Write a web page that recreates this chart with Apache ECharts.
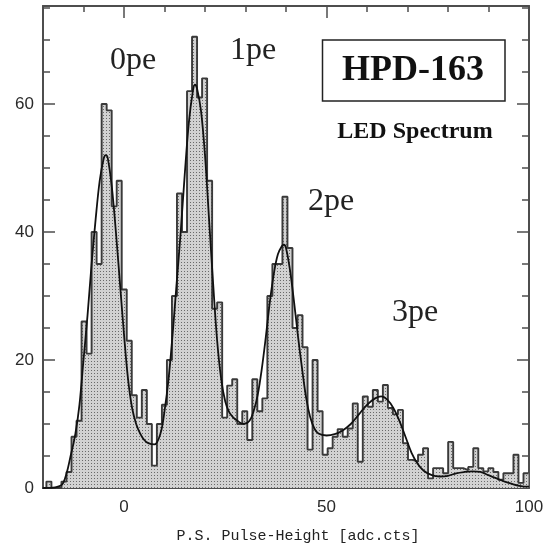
<!DOCTYPE html>
<html>
<head>
<meta charset="utf-8">
<script src="https://cdn.jsdelivr.net/npm/echarts@6.0.0/dist/echarts.min.js"></script>
<style>
  html, body { margin: 0; padding: 0; background: #fff; }
  #chart { width: 558px; height: 546px; }
</style>
</head>
<body>
<div id="chart"></div>
<script>
// histogram bins (left edge of first bin + width, in adc counts)
const binStart = -20.4;
const binWidth = 1.24;
const counts = [
  0, 1, 0, 0, 1, 2.5, 8, 10.5, 26, 21,
  40, 35, 60, 59, 44, 48, 31, 23, 14.5, 11,
  15.3, 10, 3.5, 10, 13, 20, 30, 46, 40, 62,
  70.5, 61, 64, 48, 28, 29, 11, 16, 17, 10,
  12, 7.5, 17, 12, 14, 30, 35, 35, 45.5, 37.5,
  25, 27, 22, 6, 20, 12, 5.2, 6.2, 8, 9.2,
  8, 9.3, 13.2, 4.1, 14.3, 12.7, 15.3, 13.5, 16.1, 12.5,
  11.5, 12.2, 7, 4.4, 4.1, 5.2, 6.2, 1.5, 3.1, 3.1,
  2.3, 7.2, 3.1, 3.1, 2.8, 3.3, 6.2, 3.1, 2.6, 3.1,
  2.5, 1.3, 2.3, 2.3, 5.2, 0.8, 2.3
];

// fitted curve
const fitX = [-20, -17, -15, -13, -12, -11, -10, -9, -8, -7, -6, -5, -4.5, -4, -3, -2, -1, 0, 1, 2, 3, 4, 5, 6, 7.5,
  9, 10, 11, 12, 13, 14, 15, 16, 17, 17.5, 18, 19, 20, 21, 22, 23, 24, 25, 26, 27, 28, 29.5,
  31, 32, 33, 34, 35, 36, 37, 38, 39, 39.5, 40, 41, 42, 43, 44, 45, 46, 47, 48, 50, 52, 54,
  56, 58, 60, 62, 63.5, 65, 66.5, 68, 69.5, 71, 72.5, 74, 76, 78, 80, 82, 84, 86, 88, 90, 92, 94, 96, 98, 100];
const fitY = [0, 0.1, 0.8, 5.5, 8.5, 13, 20, 27, 35, 42, 48, 51.5, 52, 51.5, 47, 40, 32, 24, 17, 12.5, 10, 8.5, 7.5, 7, 6.8,
  8.5, 12, 17, 24, 32, 40, 49, 57, 62, 63, 62.5, 59, 52, 42, 32, 23, 17, 13.5, 11.8, 11, 10.5, 10,
  10.5, 12, 14.5, 18.5, 23.5, 29, 33.5, 36.5, 37.8, 38, 37.5, 34, 29, 23.5, 18.5, 14, 11, 9.3, 8.5, 8.2, 8.4, 9,
  10, 11.5, 13, 14, 14.3, 13.8, 12.5, 10.5, 8, 5.5, 3.8, 2.7, 2, 1.8, 1.9, 2.3, 2.5, 2.6, 2.5, 2, 1.5, 1, 0.6, 0.3, 0.2];

const xLabelValues = [0, 50, 100];
const yLabelValues = [0, 20, 40, 60];
const peakNames = ['0pe', '1pe', '2pe', '3pe'];

// step outline: value of each bin holds from its left edge to the next edge
let stepData = counts.map(function (c, i) { return [binStart + i * binWidth, c]; });
stepData.push([binStart + counts.length * binWidth, counts[counts.length - 1]]);
let fitData = fitX.map(function (x, i) { return [x, fitY[i]]; });

// dotted grey fill like the print
let pat = document.createElement('canvas');
pat.width = 3; pat.height = 3;
let pctx = pat.getContext('2d');
pctx.fillStyle = '#d2d2d2';
pctx.fillRect(0, 0, 3, 3);
pctx.fillStyle = '#6a6a6a';
pctx.fillRect(1, 1, 1, 1);

const frame = '#4d4d4d';
const lblFont = { color: '#2a2a2a', fontSize: 17, fontFamily: 'Liberation Sans' };

function xAxisOf(pos, major) {
  return {
    type: 'value', min: -20, max: 100, interval: 10, position: pos,
    axisLine: { show: !major, onZero: false, lineStyle: { color: frame, width: 2 } },
    axisTick: major
      ? { show: true, inside: true, length: 12, customValues: xLabelValues, lineStyle: { color: frame, width: 1.5 } }
      : { show: true, inside: true, length: 6, lineStyle: { color: frame, width: 1.5 } },
    axisLabel: (major && pos === 'bottom')
      ? Object.assign({ show: true, margin: 11, customValues: xLabelValues }, lblFont)
      : { show: false },
    splitLine: { show: false }
  };
}

function yAxisOf(pos, major) {
  return {
    type: 'value', min: 0, max: 75.3, interval: 5, position: pos,
    axisLine: { show: !major, onZero: false, lineStyle: { color: frame, width: 2 } },
    axisTick: major
      ? { show: true, inside: true, length: 12, customValues: yLabelValues, lineStyle: { color: frame, width: 1.5 } }
      : { show: true, inside: true, length: 7, lineStyle: { color: frame, width: 1.5 } },
    axisLabel: (major && pos === 'left')
      ? Object.assign({ show: true, margin: 9, customValues: yLabelValues }, lblFont)
      : { show: false },
    splitLine: { show: false }
  };
}

let myChart = echarts.init(document.getElementById('chart'));
myChart.setOption({
  animation: false,
  backgroundColor: '#fff',
  grid: { left: 43, right: 29, top: 6, bottom: 58, containLabel: false, outerBoundsMode: 'none' },
  xAxis: [xAxisOf('bottom', false), xAxisOf('bottom', true), xAxisOf('top', false), xAxisOf('top', true)],
  yAxis: [yAxisOf('left', false), yAxisOf('left', true), yAxisOf('right', false), yAxisOf('right', true)],
  series: [
    {
      name: 'histogram',
      type: 'line',
      step: 'end',
      data: stepData,
      symbol: 'none',
      clip: true,
      lineStyle: { color: '#3a3a3a', width: 1.9 },
      areaStyle: { color: { image: pat, repeat: 'repeat' }, opacity: 1 },
      z: 2
    },
    {
      name: 'fit',
      type: 'line',
      smooth: 0.35,
      data: fitData,
      symbol: 'none',
      clip: true,
      lineStyle: { color: '#111', width: 1.8 },
      z: 3
    }
  ],
  graphic: [
    { type: 'text', x: 110, y: 61, style: { text: peakNames[0], fill: '#222', font: '32px "Liberation Serif"', verticalAlign: 'middle' } },
    { type: 'text', x: 230, y: 51, style: { text: peakNames[1], fill: '#222', font: '32px "Liberation Serif"', verticalAlign: 'middle' } },
    { type: 'text', x: 308, y: 202, style: { text: peakNames[2], fill: '#222', font: '32px "Liberation Serif"', verticalAlign: 'middle' } },
    { type: 'text', x: 392, y: 313, style: { text: peakNames[3], fill: '#222', font: '32px "Liberation Serif"', verticalAlign: 'middle' } },
    { type: 'rect', shape: { x: 322.5, y: 40, width: 182.5, height: 61 }, style: { fill: '#fff', stroke: '#222', lineWidth: 1.5 }, z: 10 },
    { type: 'text', x: 413, y: 71, z: 11, style: { text: 'HPD-163', fill: '#111', font: 'bold 36px "Liberation Serif"', align: 'center', verticalAlign: 'middle' } },
    { type: 'text', x: 415, y: 132, z: 11, style: { text: 'LED Spectrum', fill: '#111', font: 'bold 24px "Liberation Serif"', align: 'center', verticalAlign: 'middle' } },
    { type: 'text', x: 298, y: 536, style: { text: 'P.S. Pulse-Height [adc.cts]', fill: '#222', font: '15px "Liberation Mono"', align: 'center', verticalAlign: 'middle' } }
  ]
});
</script>
</body>
</html>
